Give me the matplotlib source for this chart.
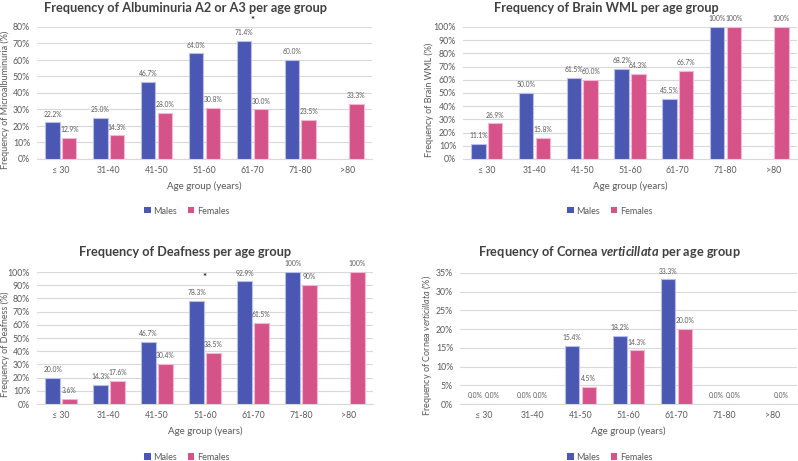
import numpy as np
import matplotlib
matplotlib.use("Agg")
import matplotlib.pyplot as plt
from matplotlib.patches import Patch

plt.rcParams['font.family'] = ['Lato', 'DejaVu Sans']
plt.rcParams['mathtext.fontset'] = 'custom'
plt.rcParams['mathtext.it'] = 'Lato:italic'
plt.rcParams['mathtext.bfit'] = 'Lato:italic:bold'
plt.rcParams['mathtext.rm'] = 'Lato'

categories = ["≤ 30", "31-40", "41-50", "51-60", "61-70", "71-80", ">80"]

alb_males = [22.2, 25.0, 46.7, 64.0, 71.4, 60.0, np.nan]
alb_females = [12.9, 14.3, 28.0, 30.8, 30.0, 23.5, 33.3]

wml_males = [11.1, 50.0, 61.5, 68.2, 45.5, 100.0, np.nan]
wml_females = [26.9, 15.8, 60.0, 64.3, 66.7, 100.0, 100.0]

deaf_males = [20.0, 14.3, 46.7, 78.3, 92.9, 100.0, np.nan]
deaf_females = [3.6, 17.6, 30.4, 38.5, 61.5, 90.0, 100.0]

cv_males = [0.0, 0.0, 15.4, 18.2, 33.3, 0.0, np.nan]
cv_females = [0.0, 0.0, 4.5, 14.3, 20.0, 0.0, 0.0]

BLUE = '#4A58B4'
PINK = '#D6538A'
BLUE_EDGE = '#B9BFE8'
PINK_EDGE = '#F2B8CF'
TXT = '#595959'
GRID = '#D9D9D9'

W, H = 798, 461
fig = plt.figure(figsize=(W / 100, H / 100), dpi=100)


def fmt(v):
    if v >= 90 and abs(v - round(v)) < 1e-9:
        return f"{v:.0f}%"
    return f"{v:.1f}%"


def panel(rect_px, males, females, ymax, ystep, title, ylabel, title_cx, title_y,
          area_cx, legend_y, ylabel_x, star=None):
    l, t, r, b = rect_px
    ax = fig.add_axes([l / W, 1 - b / H, (r - l) / W, (b - t) / H])
    x = np.arange(len(categories))
    bw = 0.30
    off = 0.175
    ax.bar(x - off, males, bw, color=BLUE, edgecolor=BLUE_EDGE, linewidth=0.8, zorder=3)
    ax.bar(x + off, females, bw, color=PINK, edgecolor=PINK_EDGE, linewidth=0.8, zorder=3)
    for xi, v in zip(x, males):
        if not np.isnan(v):
            ax.annotate(fmt(v), (xi - off, v), xytext=(0, 3.5), textcoords='offset points',
                        ha='center', va='bottom', fontsize=4.9, color=TXT, zorder=4)
    for xi, v in zip(x, females):
        if not np.isnan(v):
            ax.annotate(fmt(v), (xi + off, v), xytext=(0, 3.5), textcoords='offset points',
                        ha='center', va='bottom', fontsize=4.9, color=TXT, zorder=4)
    ax.set_xlim(-0.5, len(categories) - 0.5)
    ax.set_ylim(0, ymax)
    ticks = np.arange(0, ymax + 0.01, ystep)
    ax.set_yticks(ticks)
    ax.set_yticklabels([f"{t:.0f}%" for t in ticks])
    ax.set_xticks(x)
    ax.set_xticklabels(categories)
    ax.tick_params(axis='both', length=0, labelsize=6.3, colors=TXT, pad=5)
    ax.yaxis.grid(True, color=GRID, linewidth=0.8, zorder=0)
    ax.set_axisbelow(True)
    for s in ['top', 'right', 'left']:
        ax.spines[s].set_visible(False)
    ax.spines['bottom'].set_color(GRID)
    ax.spines['bottom'].set_linewidth(0.8)
    ax.set_xlabel("Age group (years)", fontsize=7, color=TXT, labelpad=5)
    ax.set_ylabel(ylabel, fontsize=6.5, color=TXT)
    ax.yaxis.set_label_coords((ylabel_x - l) / (r - l), 0.45)
    fig.text(title_cx / W, 1 - title_y / H, title, ha='center', va='center',
             fontsize=9.2, fontweight='bold', color='#404040')
    handles = [Patch(facecolor=BLUE, edgecolor='none'), Patch(facecolor=PINK, edgecolor='none')]
    fig.legend(handles, ["Males", "Females"], loc='center', ncol=2,
               bbox_to_anchor=(area_cx / W, 1 - legend_y / H), frameon=False,
               fontsize=6.5, labelcolor=TXT, handlelength=0.7, handleheight=0.7,
               handletextpad=0.3, columnspacing=1.2)
    if star is not None:
        ax.text(star[0], star[1], "*", ha='center', va='center', fontsize=7,
                color='#262626', fontweight='bold')
    return ax


panel((37, 27, 372, 159), alb_males, alb_females, 80, 10,
      "Frequency of Albuminuria A2 or A3 per age group",
      "Frequency of Microalbuminuria (%)", 185, 8, 187, 211, 10, star=(4, 84))
panel((463, 27, 797, 159), wml_males, wml_females, 100, 10,
      "Frequency of Brain WML per age group",
      "Frequency of Brain WML (%)", 606, 8, 610, 211, 434)
panel((37, 272, 373, 404), deaf_males, deaf_females, 100, 10,
      "Frequency of Deafness per age group",
      "Frequency of Deafness (%)", 185, 252, 187, 457, 10, star=(3, 96))
panel((460, 273, 797, 404), cv_males, cv_females, 35, 5,
      r"Frequency of Cornea $\mathbfit{verticillata}$ per age group",
      r"Frequency of Cornea $\mathit{verticillata}$ (%)", 609, 252, 610, 457, 434)

fig.savefig("out.png", dpi=100, facecolor='white')
